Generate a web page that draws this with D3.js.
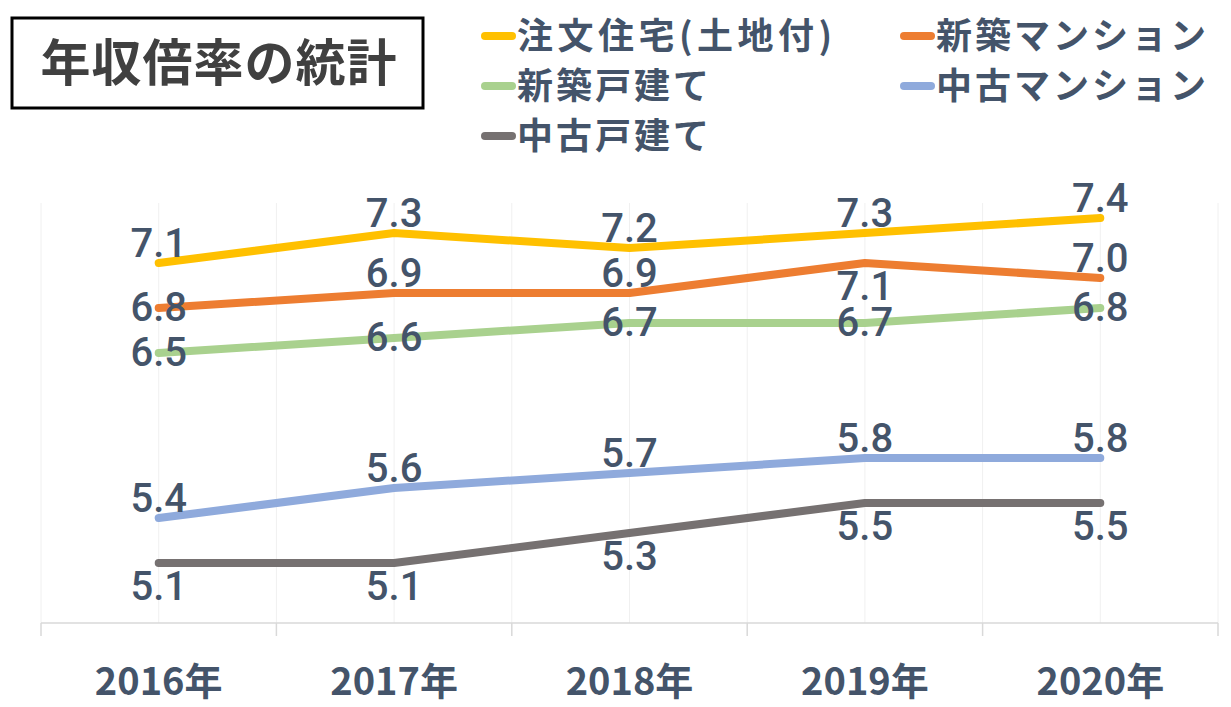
<!DOCTYPE html>
<html>
<head>
<meta charset="utf-8">
<script src="https://cdn.jsdelivr.net/npm/d3@7/dist/d3.min.js"></script>
<style>
  html, body { margin: 0; padding: 0; background: #fff; }
  svg { display: block; }
</style>
</head>
<body>
<svg id="chart" width="1231" height="707"></svg>
<script>
// ---- data ----
const years = ["2016年", "2017年", "2018年", "2019年", "2020年"];
const seriesNames = ["注文住宅(土地付)", "新築マンション", "新築戸建て", "中古マンション", "中古戸建て"];
const chumonJutaku = [7.1, 7.3, 7.2, 7.3, 7.4];
const shinchikuMansion = [6.8, 6.9, 6.9, 7.1, 7.0];
const shinchikuKodate = [6.5, 6.6, 6.7, 6.7, 6.8];
const chukoMansion = [5.4, 5.6, 5.7, 5.8, 5.8];
const chukoKodate = [5.1, 5.1, 5.3, 5.5, 5.5];
const title = "年収倍率の統計";

// ---- style ----
const colors = ["#FFC000", "#ED7D31", "#A9D18E", "#8FAADC", "#767171"];
const labelPlacement = [
  ["above", "above", "above", "above", "above"],
  ["center", "above", "above", "below", "above"],
  ["center", "center", "center", "center", "center"],
  ["above", "above", "above", "above", "above"],
  ["below", "below", "below", "below", "below"]
];
const placementDy = { above: -20, center: -1, below: 23 };
const textColor = "#44546A";

const seriesValues = [chumonJutaku, shinchikuMansion, shinchikuKodate, chukoMansion, chukoKodate];
const series = seriesNames.map((name, i) => ({
  name, color: colors[i],
  points: years.map((y, j) => ({ year: y, value: seriesValues[i][j], place: labelPlacement[i][j] }))
}));

const svg = d3.select("#chart");
const plot = { left: 41, right: 1218, top: 203, bottom: 623 };

const x = d3.scaleBand().domain(years).range([plot.left, plot.right]).paddingInner(0).paddingOuter(0);
const y = d3.scaleLinear().domain([4.7, 7.5]).range([plot.bottom, plot.top]);
const cx = d => x(d) + x.bandwidth() / 2;

// vertical gridlines (category boundaries and centres)
const gridXs = [];
years.forEach(yr => { gridXs.push(x(yr)); gridXs.push(cx(yr)); });
gridXs.push(plot.right);
svg.append("g").selectAll("line").data(gridXs).join("line")
  .attr("x1", d => d).attr("x2", d => d)
  .attr("y1", plot.top).attr("y2", plot.bottom)
  .attr("stroke", "#F0F0F0").attr("stroke-width", 1);

// x axis
const xAxis = d3.axisBottom(x).tickSize(0).tickPadding(0);
const gx = svg.append("g").attr("transform", `translate(0,${plot.bottom})`).call(xAxis);
gx.select(".domain").remove();
gx.selectAll("text")
  .attr("y", 59)
  .attr("dy", "0.35em")
  .attr("fill", textColor)
  .style("font-family", "'Noto Sans CJK JP', sans-serif")
  .style("font-weight", 700)
  .style("font-size", "38px");
svg.append("line")
  .attr("x1", plot.left).attr("x2", plot.right)
  .attr("y1", plot.bottom).attr("y2", plot.bottom)
  .attr("stroke", "#D9D9D9").attr("stroke-width", 1.5);
const boundaries = years.map(yr => x(yr)).concat([plot.right]);
svg.append("g").selectAll("line").data(boundaries).join("line")
  .attr("x1", d => d).attr("x2", d => d)
  .attr("y1", plot.bottom).attr("y2", plot.bottom + 13)
  .attr("stroke", "#D9D9D9").attr("stroke-width", 1.5);

// lines
const line = d3.line().x(d => cx(d.year)).y(d => y(d.value));
svg.append("g").selectAll("path").data(series).join("path")
  .attr("d", d => line(d.points))
  .attr("fill", "none")
  .attr("stroke", d => d.color)
  .attr("stroke-width", 8)
  .attr("stroke-linecap", "round")
  .attr("stroke-linejoin", "round");

// data labels
const labels = svg.append("g");
series.forEach(s => {
  labels.selectAll(null).data(s.points).join("text")
    .attr("x", d => cx(d.year))
    .attr("y", d => y(d.value) + placementDy[d.place])
    .attr("dy", "0.36em")
    .attr("text-anchor", "middle")
    .attr("fill", textColor)
    .style("font-family", "Roboto, sans-serif")
    .style("font-weight", 500)
    .style("font-size", "40px")
    .text(d => d3.format(".1f")(d.value));
});

// title box
svg.append("rect")
  .attr("x", 12).attr("y", 18).attr("width", 411).attr("height", 90)
  .attr("fill", "#fff").attr("stroke", "#000").attr("stroke-width", 3);
svg.append("text")
  .attr("x", 219).attr("y", 63).attr("dy", "0.36em")
  .attr("text-anchor", "middle")
  .attr("fill", "#404040")
  .style("font-family", "'Noto Sans CJK JP', sans-serif")
  .style("font-weight", 700)
  .style("font-size", "50px")
  .style("letter-spacing", "1px")
  .text(title);

// legend
const legendPos = [
  { x: 481, y: 36 }, { x: 900, y: 36 },
  { x: 481, y: 86 }, { x: 900, y: 86 },
  { x: 481, y: 136 }
];
const lg = svg.append("g");
series.forEach((s, i) => {
  const p = legendPos[i];
  const g = lg.append("g").attr("transform", `translate(${p.x},${p.y})`);
  g.append("line").attr("x1", 4).attr("x2", 31).attr("y1", 0).attr("y2", 0)
    .attr("stroke", s.color).attr("stroke-width", 8).attr("stroke-linecap", "round");
  g.append("text").attr("x", 36).attr("y", 0).attr("dy", "0.36em")
    .attr("fill", textColor)
    .style("font-family", "'Noto Sans CJK JP', sans-serif")
    .style("font-weight", 700)
    .style("font-size", "36px")
    .style("letter-spacing", i === 0 ? "4.5px" : "3px")
    .text(s.name);
});
</script>
</body>
</html>
